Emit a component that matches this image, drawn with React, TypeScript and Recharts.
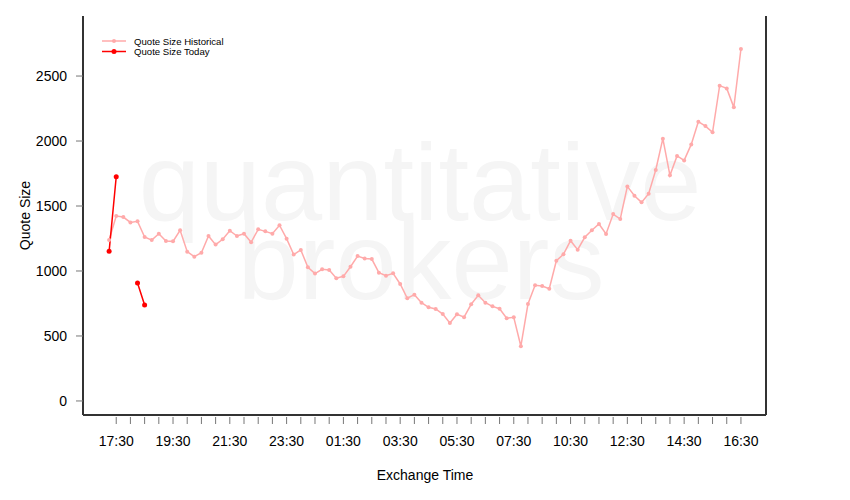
import React from 'react';
import { LineChart, Line, XAxis, YAxis } from 'recharts';

// historical quote size, 15 min buckets, first value sits one bucket before 17:30
const historical = [
  1238, 1423, 1415, 1374, 1382, 1262, 1238, 1287, 1231, 1228,
  1313, 1149, 1110, 1141, 1269, 1203, 1244, 1310, 1269, 1287,
  1221, 1321, 1305, 1287, 1352, 1249, 1126, 1162, 1028, 980,
  1013, 1008, 944, 959, 1033, 1115, 1097, 1092, 987, 964,
  982, 900, 790, 818, 756, 721, 708, 669, 600, 667,
  645, 744, 813, 756, 728, 710, 636, 644, 421, 746,
  890, 885, 864, 1079, 1128, 1233, 1164, 1259, 1313, 1362,
  1285, 1438, 1400, 1651, 1579, 1528, 1595, 1777, 2018, 1736,
  1885, 1851, 1974, 2149, 2115, 2067, 2426, 2405, 2259, 2708,
];

// today's values so far (null = no print)
const today = [1151, 1725, null, null, 908, 738];

const tickLabels = [
  '17:30', '19:30', '21:30', '23:30', '01:30', '03:30',
  '05:30', '07:30', '10:30', '12:30', '14:30', '16:30',
];

const yTicks = [0, 500, 1000, 1500, 2000, 2500];

const data = historical.map((v, i) => ({
  idx: i - 1,
  hist: v,
  today: i < today.length ? today[i] : null,
}));

const xTicks = Array.from({ length: 45 }, (_, i) => i * 2);

const FONT = '"Liberation Sans", Arial, Helvetica, sans-serif';

const XTick = (props: any) => {
  const { x, y, payload } = props;
  const i = payload.value;
  const label = i % 8 === 0 ? tickLabels[i / 8] : null;
  return (
    <g>
      <line x1={x} x2={x} y1={y + 2} y2={y + 9} stroke="#777" strokeWidth={1} />
      {label && (
        <text x={x} y={y + 31} textAnchor="middle" fontSize={14} fontFamily={FONT} fill="#000">
          {label}
        </text>
      )}
    </g>
  );
};

const YTick = (props: any) => {
  const { x, y, payload } = props;
  return (
    <g>
      <line x1={x - 7} x2={x} y1={y} y2={y} stroke="#777" strokeWidth={1} />
      <text x={x - 16} y={y + 5} textAnchor="end" fontSize={14} fontFamily={FONT} fill="#000">
        {payload.value}
      </text>
    </g>
  );
};

const App = () => {
  return (
    <div style={{ position: 'absolute', left: 0, top: 0, background: '#fff' }}>
      <LineChart width={850} height={500} data={data} margin={{ top: 16, right: 0, bottom: 0, left: 0 }}>
        {/* watermark */}
        <text x={420} y={220} textAnchor="middle" fontSize={110} fontFamily={FONT} fill="#f5f5f5">
          quantitative
        </text>
        <text x={421} y={299} textAnchor="middle" fontSize={110} fontFamily={FONT} fill="#f5f5f5">
          brokers
        </text>
        <XAxis
          dataKey="idx"
          type="number"
          domain={[-4.68, 91.53]}
          ticks={xTicks}
          interval={0}
          height={85}
          tickSize={0}
          tickMargin={0}
          tickLine={false}
          tick={<XTick />}
          axisLine={{ stroke: '#333', strokeWidth: 2 }}
        />
        <YAxis
          yAxisId="left"
          type="number"
          domain={[-108, 2962]}
          ticks={yTicks}
          interval={0}
          width={83}
          tickSize={0}
          tickMargin={0}
          tickLine={false}
          tick={<YTick />}
          axisLine={{ stroke: '#333', strokeWidth: 2 }}
        />
        <YAxis
          yAxisId="right"
          orientation="right"
          width={84}
          tick={false}
          tickLine={false}
          axisLine={{ stroke: '#333', strokeWidth: 2 }}
        />
        <Line
          yAxisId="left"
          type="linear"
          dataKey="hist"
          stroke="#ffaaaa"
          strokeWidth={1.5}
          dot={{ r: 2, fill: '#ffaaaa', stroke: 'none' }}
          activeDot={false}
          isAnimationActive={false}
        />
        <Line
          yAxisId="left"
          type="linear"
          dataKey="today"
          stroke="#ff0000"
          strokeWidth={1.5}
          dot={{ r: 2.5, fill: '#ff0000', stroke: 'none' }}
          activeDot={false}
          connectNulls={false}
          isAnimationActive={false}
        />
        {/* legend */}
        <g fontFamily={FONT} fontSize={9.6}>
          <line x1={102} x2={126} y1={41} y2={41} stroke="#ffaaaa" strokeWidth={1.5} />
          <circle cx={114} cy={41} r={2} fill="#ffaaaa" />
          <text x={134} y={44.5} fill="#000">Quote Size Historical</text>
          <line x1={102} x2={126} y1={51.5} y2={51.5} stroke="#ff0000" strokeWidth={1.5} />
          <circle cx={114} cy={51.5} r={2.5} fill="#ff0000" />
          <text x={134} y={55} fill="#000">Quote Size Today</text>
        </g>
        <text x={30} y={215.5} transform="rotate(-90 30 215.5)" textAnchor="middle" fontSize={14} fontFamily={FONT} fill="#000">
          Quote Size
        </text>
        <text x={425} y={480} textAnchor="middle" fontSize={14} fontFamily={FONT} fill="#000">
          Exchange Time
        </text>
      </LineChart>
    </div>
  );
};

export default App;
